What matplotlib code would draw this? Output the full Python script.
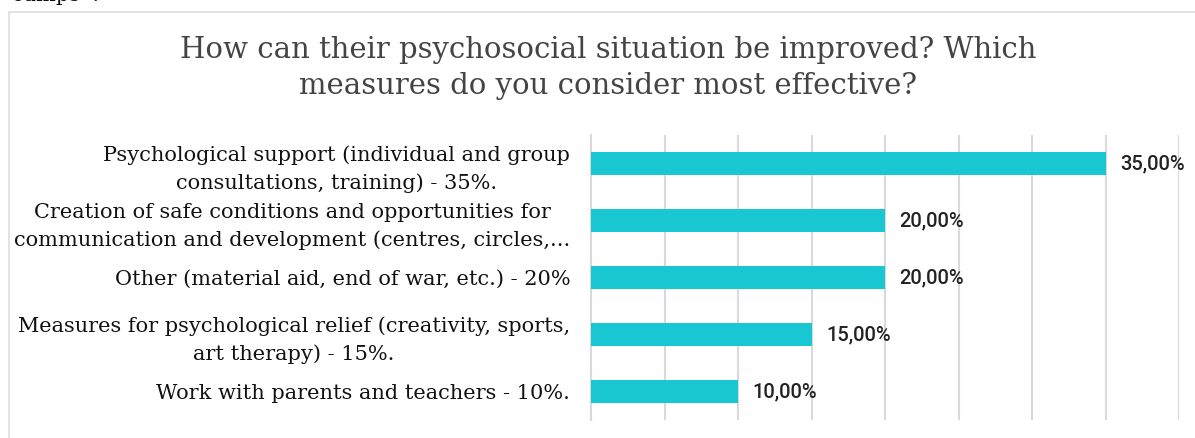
import matplotlib.pyplot as plt
import matplotlib.patches as mpatches

# Survey answers, top to bottom
categories = [
    "Psychological support (individual and group\nconsultations, training) - 35%.",
    "Creation of safe conditions and opportunities for\ncommunication and development (centres, circles,...",
    "Other (material aid, end of war, etc.) - 20%",
    "Measures for psychological relief (creativity, sports,\nart therapy) - 15%.",
    "Work with parents and teachers - 10%.",
]
shares = [0.35, 0.20, 0.20, 0.15, 0.10]
title = "How can their psychosocial situation be improved? Which\nmeasures do you consider most effective?"

BAR_COLOR = "#19C7D2"
GRID_COLOR = "#D9D9D9"
SERIF = ["DejaVu Serif"]

fig = plt.figure(figsize=(11.95, 4.38), dpi=100)

# light frame around the chart area (runs off the right/bottom edge)
frame = mpatches.Rectangle((9 / 1195, -0.2), 1.2, 1 - 12 / 438 + 0.2,
                           transform=fig.transFigure, fill=False,
                           edgecolor="#DDDDDD", linewidth=1.2)
fig.add_artist(frame)

# tail of the preceding paragraph, cut off by the top edge
fig.text(12 / 1195, 1 - 1 / 438, "camps\u201d?", family=SERIF, fontsize=15,
         color="#111111", va="baseline", ha="left")

fig.text(608 / 1195, 1 - 68 / 438, title, family=SERIF, fontsize=21,
         color="#444444", ha="center", va="center", linespacing=1.4)

ax = fig.add_axes([591 / 1195, 1 - 420 / 438, (1179 - 591) / 1195, (420 - 135) / 438])

y = range(len(categories))
ax.barh(y, shares, height=0.4, color=BAR_COLOR, zorder=3)
ax.set_ylim(len(categories) - 0.5, -0.5)
ax.set_xlim(0, 0.40)
ax.set_xticks([i * 0.05 for i in range(9)])
ax.tick_params(axis="x", length=0, labelbottom=False)
ax.tick_params(axis="y", length=0, pad=15)
ax.set_yticks(list(y))
ax.set_yticklabels(categories, family=SERIF, fontsize=15, color="#111111",
                   multialignment="center", linespacing=1.5)
ax.grid(axis="x", color=GRID_COLOR, linewidth=1.5, zorder=0)
for side in ["top", "right", "bottom"]:
    ax.spines[side].set_visible(False)
ax.spines["left"].set_color(GRID_COLOR)
ax.spines["left"].set_linewidth(1.5)

for yi, v in zip(y, shares):
    ax.text(v + 0.010, yi, f"{v * 100:.2f}%".replace(".", ","),
            family=["Roboto", "DejaVu Sans"], fontsize=14.5, fontweight="medium",
            color="#222222", va="center", ha="left")

fig.savefig("out.png", dpi=100)
